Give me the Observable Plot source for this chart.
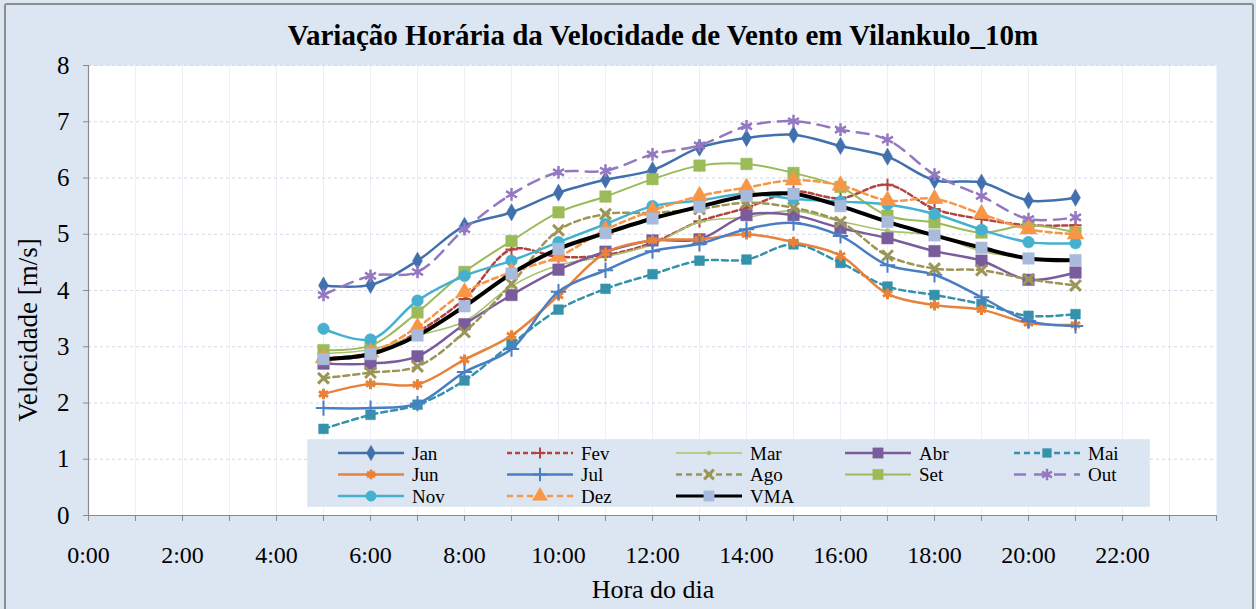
<!DOCTYPE html>
<html><head><meta charset="utf-8">
<script src="https://cdn.jsdelivr.net/npm/d3@7"></script>
<script src="https://cdn.jsdelivr.net/npm/@observablehq/plot@0.6"></script>
<style>
html,body{margin:0;padding:0;background:#dce6f2;}
#page{position:relative;width:1256px;height:609px;background:#dce6f2;overflow:hidden;font-family:"Liberation Serif","Times New Roman",serif;color:#000;}
#frame{position:absolute;left:4px;top:3px;width:1246px;height:620px;border:2px solid #8d8d8d;border-radius:3px;pointer-events:none;z-index:5;}
#title{position:absolute;left:70px;top:16px;width:1186px;text-align:center;font-weight:bold;font-size:29px;line-height:38px;}
#chart{position:absolute;left:0;top:55px;}
#ylab{position:absolute;left:28px;top:330px;transform:translate(-50%,-50%) rotate(-90deg);font-size:27px;white-space:nowrap;}
#xlab{position:absolute;left:653px;top:590px;transform:translate(-50%,-50%);font-size:26px;white-space:nowrap;}
#legend{position:absolute;left:307px;top:439px;}
</style></head>
<body><div id="page">
<div id="title">Variação Horária da Velocidade de Vento em Vilankulo_10m</div>
<div id="chart"></div>
<div id="ylab">Velocidade [m/s]</div>
<div id="xlab">Hora do dia</div>
<div id="legend"></div>
<div id="frame"></div>
</div>
<script>
const hours = [5, 6, 7, 8, 9, 10, 11, 12, 13, 14, 15, 16, 17, 18, 19, 20, 21];
const jan = [4.09, 4.10, 4.53, 5.15, 5.39, 5.74, 5.97, 6.14, 6.54, 6.71, 6.77, 6.57, 6.38, 5.96, 5.92, 5.60, 5.65];
const fev = [2.78, 2.85, 3.26, 3.85, 4.73, 4.60, 4.63, 4.85, 5.23, 5.47, 5.76, 5.64, 5.88, 5.45, 5.27, 5.16, 5.16];
const mar = [2.88, 2.95, 3.20, 3.45, 4.08, 4.45, 4.60, 4.82, 5.22, 5.30, 5.42, 5.23, 5.06, 4.98, 4.70, 4.58, 4.55];
const abr = [2.70, 2.70, 2.83, 3.40, 3.92, 4.37, 4.69, 4.89, 4.91, 5.34, 5.34, 5.11, 4.93, 4.70, 4.53, 4.19, 4.32];
const mai = [1.54, 1.79, 1.97, 2.40, 3.05, 3.66, 4.03, 4.29, 4.53, 4.55, 4.82, 4.49, 4.07, 3.92, 3.76, 3.55, 3.58];
const jun = [2.16, 2.34, 2.33, 2.77, 3.20, 3.91, 4.67, 4.89, 4.91, 5.00, 4.86, 4.62, 3.94, 3.74, 3.66, 3.42, 3.39];
const jul = [1.91, 1.91, 1.99, 2.55, 2.96, 3.98, 4.36, 4.70, 4.83, 5.09, 5.20, 4.97, 4.45, 4.28, 3.88, 3.46, 3.37];
const ago = [2.44, 2.54, 2.65, 3.26, 4.12, 5.07, 5.36, 5.38, 5.45, 5.56, 5.47, 5.22, 4.62, 4.39, 4.36, 4.20, 4.09];
const set = [2.94, 3.02, 3.61, 4.33, 4.88, 5.39, 5.67, 5.98, 6.22, 6.25, 6.09, 5.84, 5.33, 5.21, 5.03, 5.16, 5.03];
const out = [3.92, 4.26, 4.33, 5.09, 5.71, 6.10, 6.13, 6.42, 6.58, 6.92, 7.01, 6.86, 6.68, 6.06, 5.68, 5.27, 5.30];
const nov = [3.32, 3.13, 3.82, 4.26, 4.53, 4.86, 5.18, 5.50, 5.60, 5.72, 5.63, 5.58, 5.53, 5.36, 5.08, 4.86, 4.84];
const dez = [2.80, 2.90, 3.35, 3.97, 4.33, 4.60, 5.08, 5.42, 5.68, 5.83, 5.96, 5.87, 5.60, 5.63, 5.36, 5.09, 5.00];
const vma = [2.78, 2.87, 3.20, 3.72, 4.30, 4.74, 5.02, 5.28, 5.49, 5.68, 5.72, 5.50, 5.22, 4.98, 4.76, 4.57, 4.54];
const seriesNames = ["Jan", "Fev", "Mar", "Abr", "Mai", "Jun", "Jul", "Ago", "Set", "Out", "Nov", "Dez", "VMA"];
const seriesValues = [jan, fev, mar, abr, mai, jun, jul, ago, set, out, nov, dez, vma];
const yTicks = [0, 1, 2, 3, 4, 5, 6, 7, 8];
const xLabelTicks = [0, 2, 4, 6, 8, 10, 12, 14, 16, 18, 20, 22];
const xLabels = ["0:00", "2:00", "4:00", "6:00", "8:00", "10:00", "12:00", "14:00", "16:00", "18:00", "20:00", "22:00"];
const xMinorTicks = d3.range(0, 25);

// styles (separate from data)
const styles = {
  Jan: {color: "#4270ac", w: 2.5, dash: null, sym: "diamond", r: 5.2, filled: true},
  Fev: {color: "#b3433f", w: 2.5, dash: "5,3", sym: "plus", r: 4, filled: false, sw: 2},
  Mar: {color: "#a6c46e", w: 1.6, dash: null, sym: "circle", r: 2.3, filled: true},
  Abr: {color: "#7a5c9c", w: 2.5, dash: null, sym: "square", r: 6.5, filled: true},
  Mai: {color: "#3592ab", w: 2.5, dash: "6,4", sym: "square", r: 5.5, filled: true},
  Jun: {color: "#e8823a", w: 2.5, dash: null, sym: "asterisk", r: 5, filled: false, sw: 3},
  Jul: {color: "#4a7ec4", w: 2.5, dash: null, sym: "plus", r: 5, filled: false, sw: 2},
  Ago: {color: "#9b9556", w: 2.5, dash: "6,4", sym: "times", r: 5, filled: false, sw: 3},
  Set: {color: "#9bbb59", w: 2, dash: null, sym: "square", r: 6.5, filled: true},
  Out: {color: "#9478c2", w: 2.5, dash: "12,8", sym: "asterisk", r: 6, filled: false, sw: 2.5},
  Nov: {color: "#45b0cf", w: 2.5, dash: null, sym: "circle", r: 5.8, filled: true},
  Dez: {color: "#f79646", w: 2.5, dash: "6,4", sym: "triangle", r: 6.2, filled: true},
  VMA: {color: "#000000", w: 4, dash: null, sym: "square", r: 6.5, filled: true, mfill: "#a9bbdd"}
};

const seriesMarks = [];
seriesNames.forEach((name, i) => {
  const s = styles[name];
  const vals = seriesValues[i];
  seriesMarks.push(Plot.line(vals, {x: hours, y: vals, curve: "catmull-rom", stroke: s.color, strokeWidth: s.w, strokeDasharray: s.dash}));
  const mc = s.mfill || s.color;
  if (s.filled) {
    seriesMarks.push(Plot.dot(vals, {x: hours, y: vals, symbol: s.sym, r: s.r, fill: mc, stroke: mc, strokeWidth: 0.5}));
  } else {
    seriesMarks.push(Plot.dot(vals, {x: hours, y: vals, symbol: s.sym, r: s.r, fill: "none", stroke: mc, strokeWidth: s.sw}));
  }
});

const chart = Plot.plot({
  width: 1256, height: 554,
  marginLeft: 88, marginRight: 40, marginTop: 10, marginBottom: 94,
  style: {background: "transparent", fontFamily: "'Liberation Serif', 'Times New Roman', serif", color: "#000", overflow: "visible"},
  x: {domain: [0, 24], axis: null},
  y: {domain: [0, 8], axis: null},
  marks: [
    Plot.frame({fill: "white", stroke: "none"}),
    Plot.gridX(xMinorTicks.slice(1, 24), {stroke: "#edf0f6", strokeOpacity: 1}),
    Plot.gridY(yTicks.slice(1), {stroke: "#d2d8e4", strokeOpacity: 1, strokeDasharray: "3,3"}),
    Plot.axisY(yTicks, {tickSize: 5, tickPadding: 14, stroke: "#8a8a8a", fontSize: 25, tickFormat: d => String(d), fill: "#000"}),
    Plot.axisX(xMinorTicks, {tickSize: 6, tickFormat: () => "", stroke: "#8a8a8a"}),
    Plot.axisX(xLabelTicks, {tickSize: 0, tickPadding: 30, tickFormat: (d, i) => xLabels[xLabelTicks.indexOf(d)], fontSize: 24, fill: "#000"}),
    Plot.ruleY([0], {stroke: "#8a8a8a", strokeWidth: 1.2}),
    Plot.ruleX([0], {stroke: "#8a8a8a", strokeWidth: 1.2}),
    ...seriesMarks
  ]
});
document.getElementById("chart").appendChild(chart);

// legend
const symMap = {diamond: d3.symbolDiamond, plus: d3.symbolPlus, circle: d3.symbolCircle, square: d3.symbolSquare,
  asterisk: d3.symbolAsterisk, times: d3.symbolTimes, triangle: d3.symbolTriangle};
const lw = 843, lh = 68;
const lsvg = d3.select("#legend").append("svg").attr("width", lw).attr("height", lh)
  .style("font-family", "'Liberation Serif', 'Times New Roman', serif");
lsvg.append("rect").attr("width", lw).attr("height", lh).attr("fill", "#dce6f2").attr("stroke", "#e8eef7");
seriesNames.forEach((name, i) => {
  const s = styles[name];
  const col = i % 5, row = Math.floor(i / 5);
  const x0 = 31 + col * 169, y0 = 14 + row * 21.5;
  const g = lsvg.append("g");
  g.append("line").attr("x1", x0).attr("x2", x0 + 66).attr("y1", y0).attr("y2", y0)
    .attr("stroke", s.color).attr("stroke-width", Math.min(s.w, 3)).attr("stroke-dasharray", s.dash);
  const mc = s.mfill || s.color;
  const p = d3.symbol(symMap[s.sym], Math.PI * s.r * s.r * 0.8)();
  const m = g.append("path").attr("d", p).attr("transform", `translate(${x0 + 33},${y0})`);
  if (s.filled) m.attr("fill", mc).attr("stroke", mc).attr("stroke-width", 0.5);
  else m.attr("fill", "none").attr("stroke", mc).attr("stroke-width", s.sw);
  g.append("text").attr("x", x0 + 74).attr("y", y0).attr("dy", "0.35em").attr("font-size", 19).text(name);
});
</script>
</body></html>
